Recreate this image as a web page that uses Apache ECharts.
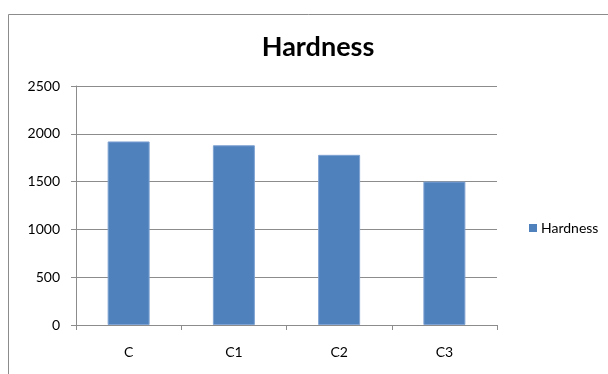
<!DOCTYPE html>
<html>
<head>
<meta charset="utf-8">
<script src="https://cdn.jsdelivr.net/npm/echarts@6/dist/echarts.min.js"></script>
<style>
  html, body { margin: 0; padding: 0; background: #ffffff; }
  #chart { width: 608px; height: 374px; }
</style>
</head>
<body>
<div id="chart"></div>
<script>
// Hardness per sample
const categories = ['C', 'C1', 'C2', 'C3'];
const hardness = [1920, 1880, 1780, 1500];
const yTicks = { min: 0, max: 2500, step: 500 };

const font = 'Lato, "Liberation Sans", sans-serif';
const chart = echarts.init(document.getElementById('chart'), null, { renderer: 'canvas' });

chart.setOption({
  backgroundColor: '#ffffff',
  animation: false,
  title: {
    text: 'Hardness',
    left: 313,
    textAlign: 'center',
    top: 29,
    textStyle: { fontFamily: font, fontSize: 27, fontWeight: 'bold', color: '#000000' }
  },
  legend: {
    data: ['Hardness'],
    orient: 'vertical',
    left: 524,
    top: 216,
    itemWidth: 8,
    itemHeight: 8,
    itemGap: 6,
    icon: 'rect',
    itemStyle: { borderWidth: 0 },
    textStyle: { fontFamily: font, fontSize: 14, color: '#000000', padding: [0, 0, 0, -1] }
  },
  grid: { left: 76, right: 111, top: 86, bottom: 49 },
  xAxis: {
    type: 'category',
    data: categories,
    boundaryGap: true,
    axisLine: { lineStyle: { color: '#8c8c8c', width: 1 } },
    axisTick: { show: true, length: 5, alignWithLabel: false, lineStyle: { color: '#8c8c8c' } },
    axisLabel: { fontFamily: font, fontSize: 14, color: '#000000', margin: 20 },
    splitLine: { show: false }
  },
  yAxis: {
    type: 'value',
    min: yTicks.min,
    max: yTicks.max,
    interval: yTicks.step,
    axisLine: { show: true, lineStyle: { color: '#8c8c8c', width: 1 } },
    axisTick: { show: true, length: 5, lineStyle: { color: '#8c8c8c' } },
    axisLabel: { fontFamily: font, fontSize: 14, color: '#000000', margin: 16, formatter: (v) => String(v) },
    splitLine: { show: true, lineStyle: { color: '#8c8c8c', width: 1 } }
  },
  series: [{
    name: 'Hardness',
    type: 'bar',
    data: hardness,
    barWidth: 42,
    itemStyle: { color: '#4f81bd', borderColor: '#7fa3d3', borderWidth: 1 }
  }],
  graphic: [{
    type: 'polyline',
    silent: true,
    shape: { points: [[8.5, 374], [8.5, 14.5], [608, 14.5]] },
    style: { stroke: '#8c8c8c', lineWidth: 1, fill: null }
  }]
});
</script>
</body>
</html>
